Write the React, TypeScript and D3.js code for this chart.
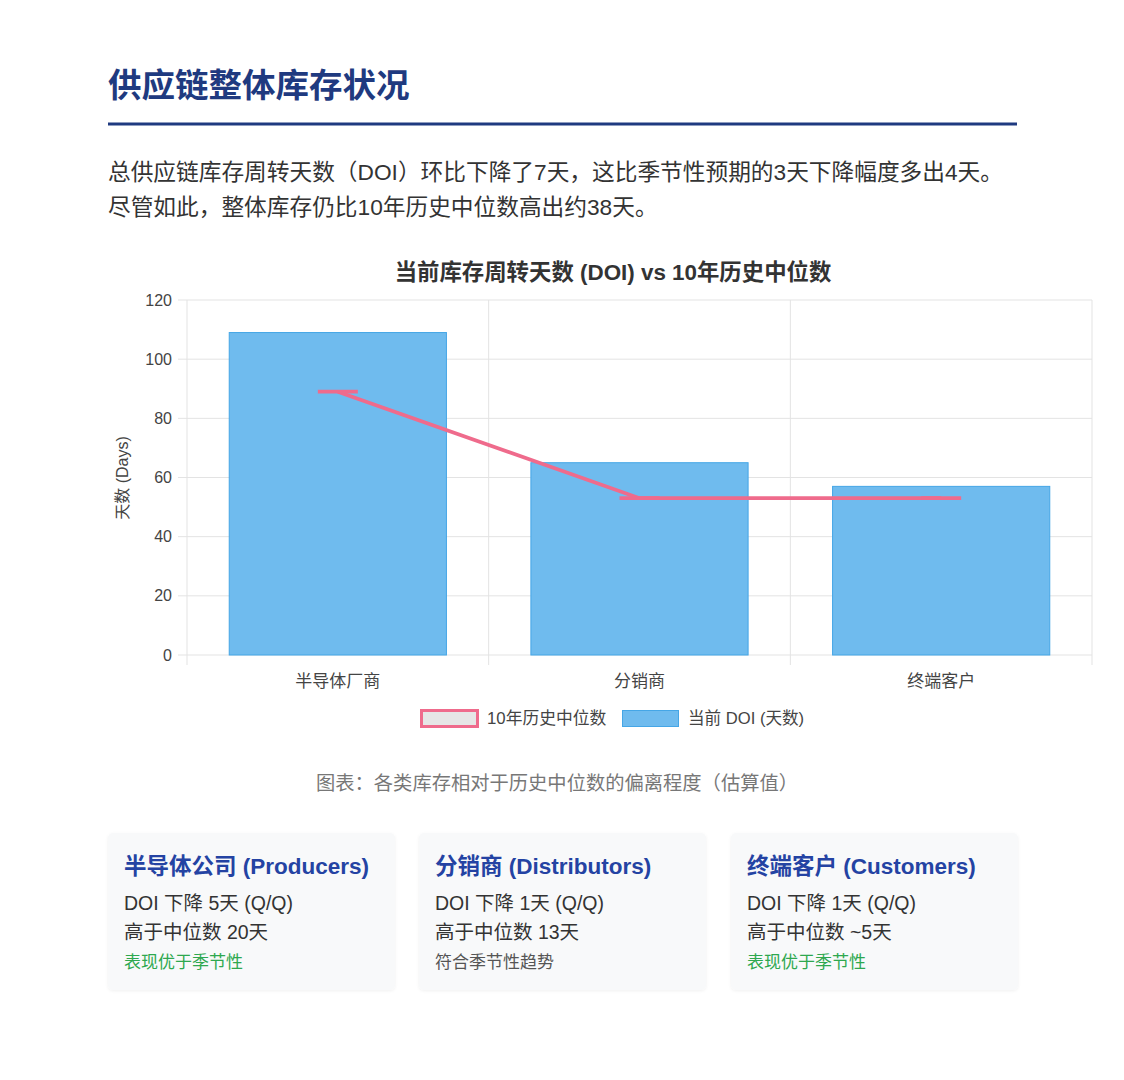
import React from "react";
import * as d3 from "d3";

const categories = ["半导体厂商", "分销商", "终端客户"];
const currentDOI = [109, 65, 57];
const medianDOI = [89, 53, 53];
const yTicks = [0, 20, 40, 60, 80, 100, 120];

const cardTitles = ["半导体公司 (Producers)", "分销商 (Distributors)", "终端客户 (Customers)"];
const cardLine1 = ["DOI 下降 5天 (Q/Q)", "DOI 下降 1天 (Q/Q)", "DOI 下降 1天 (Q/Q)"];
const cardLine2 = ["高于中位数 20天", "高于中位数 13天", "高于中位数 ~5天"];
const cardLine3 = ["表现优于季节性", "符合季节性趋势", "表现优于季节性"];
const cardLine3Good = [true, false, true];

const FONT = "Helvetica, Arial, 'Liberation Sans', 'Noto Sans CJK SC', sans-serif";

export default function App() {
  const W = 1124, H = 1080;
  const left = 187, right = 1092, top = 300, bottom = 655;
  const x = d3.scaleBand<string>().domain(categories).range([left, right]);
  const y = d3.scaleLinear().domain([0, 120]).range([bottom, top]);
  const barW = x.bandwidth() * 0.72;
  const cx = (c: string) => (x(c) as number) + x.bandwidth() / 2;
  const line = d3.line<number>().x((_, i) => cx(categories[i])).y((d) => y(d));
  const pink = "#ef6b8c";
  const barFill = "#6fbbee";
  const barStroke = "#45a6e6";
  const grid = "#e3e3e3";

  const cardX = [108, 419, 731];
  const cardW = 287;

  return (
    <div style={{ position: "absolute", left: 0, top: 0, width: W, height: H, background: "#fff" }}>
      <svg width={W} height={H} style={{ display: "block", fontFamily: FONT }}>
        <defs>
          <filter id="sh" x="-5%" y="-5%" width="110%" height="115%">
            <feDropShadow dx="0" dy="1" stdDeviation="1.5" floodColor="#000" floodOpacity="0.06" />
          </filter>
        </defs>
        <rect width={W} height={H} fill="#fff" />
        {/* Header */}
        <text x={108} y={97} fontSize={33.5} fontWeight={700} fill="#1f3a80">供应链整体库存状况</text>
        <rect x={108} y={122.5} width={909} height={3} fill="#1f3a80" />
        <text x={108} y={180} fontSize={22.7} fill="#333">总供应链库存周转天数（DOI）环比下降了7天，这比季节性预期的3天下降幅度多出4天。</text>
        <text x={108} y={215} fontSize={22.7} fill="#333">尽管如此，整体库存仍比10年历史中位数高出约38天。</text>

        {/* Chart title */}
        <text x={613} y={280} fontSize={22.4} fontWeight={700} fill="#333" textAnchor="middle">当前库存周转天数 (DOI) vs 10年历史中位数</text>

        {/* grid */}
        {yTicks.map((t) => (
          <g key={t}>
            <line x1={178} x2={right} y1={y(t)} y2={y(t)} stroke={grid} strokeWidth={1} />
            <text x={172} y={y(t)} dy="0.35em" fontSize={16} fill="#444" textAnchor="end">{t}</text>
          </g>
        ))}
        {[...categories.map((c) => x(c) as number), right].map((v, i) => (
          <line key={i} x1={v} x2={v} y1={top} y2={665} stroke={grid} strokeWidth={1} />
        ))}

        {/* bars */}
        {categories.map((c, i) => (
          <rect key={c} x={cx(c) - barW / 2} y={y(currentDOI[i])} width={barW} height={bottom - y(currentDOI[i])}
            fill={barFill} stroke={barStroke} strokeWidth={1} />
        ))}

        {/* median line */}
        <path d={line(medianDOI) || ""} fill="none" stroke={pink} strokeWidth={3.8} />
        {categories.map((c, i) => (
          <line key={c} x1={cx(c) - 20} x2={cx(c) + 20} y1={y(medianDOI[i])} y2={y(medianDOI[i])} stroke={pink} strokeWidth={3.8} />
        ))}

        {/* x labels */}
        {categories.map((c) => (
          <text key={c} x={cx(c)} y={681} dy="0.35em" fontSize={17} fill="#444" textAnchor="middle">{c}</text>
        ))}
        <text transform={`translate(122,478) rotate(-90)`} dy="0.35em" fontSize={16} fill="#444" textAnchor="middle">天数 (Days)</text>

        {/* legend */}
        <rect x={421.5} y={710.5} width={56} height={16} fill="#e6e6e6" stroke={pink} strokeWidth={3} />
        <text x={487} y={718} dy="0.35em" fontSize={16.8} fill="#444">10年历史中位数</text>
        <rect x={622.5} y={710.5} width={56} height={16} fill={barFill} stroke={barStroke} strokeWidth={1} />
        <text x={688} y={718} dy="0.35em" fontSize={16.6} fill="#444">当前 DOI (天数)</text>

        {/* caption */}
        <text x={557} y={783} dy="0.35em" fontSize={19.3} fill="#777" textAnchor="middle">图表：各类库存相对于历史中位数的偏离程度（估算值）</text>

        {/* cards */}
        {cardTitles.map((t, i) => (
          <g key={t}>
            <rect x={cardX[i]} y={833} width={cardW} height={157} rx={5} fill="#f8f9fa" filter="url(#sh)" />
            <text x={cardX[i] + 16} y={866} dy="0.35em" fontSize={22.5} fontWeight={700} fill="#2443a3">{t}</text>
            <text x={cardX[i] + 16} y={903} dy="0.35em" fontSize={19.5} fill="#333">{cardLine1[i]}</text>
            <text x={cardX[i] + 16} y={932} dy="0.35em" fontSize={19.5} fill="#333">{cardLine2[i]}</text>
            <text x={cardX[i] + 16} y={962} dy="0.35em" fontSize={17} fill={cardLine3Good[i] ? "#2ea84f" : "#555"}>{cardLine3[i]}</text>
          </g>
        ))}
      </svg>
    </div>
  );
}
